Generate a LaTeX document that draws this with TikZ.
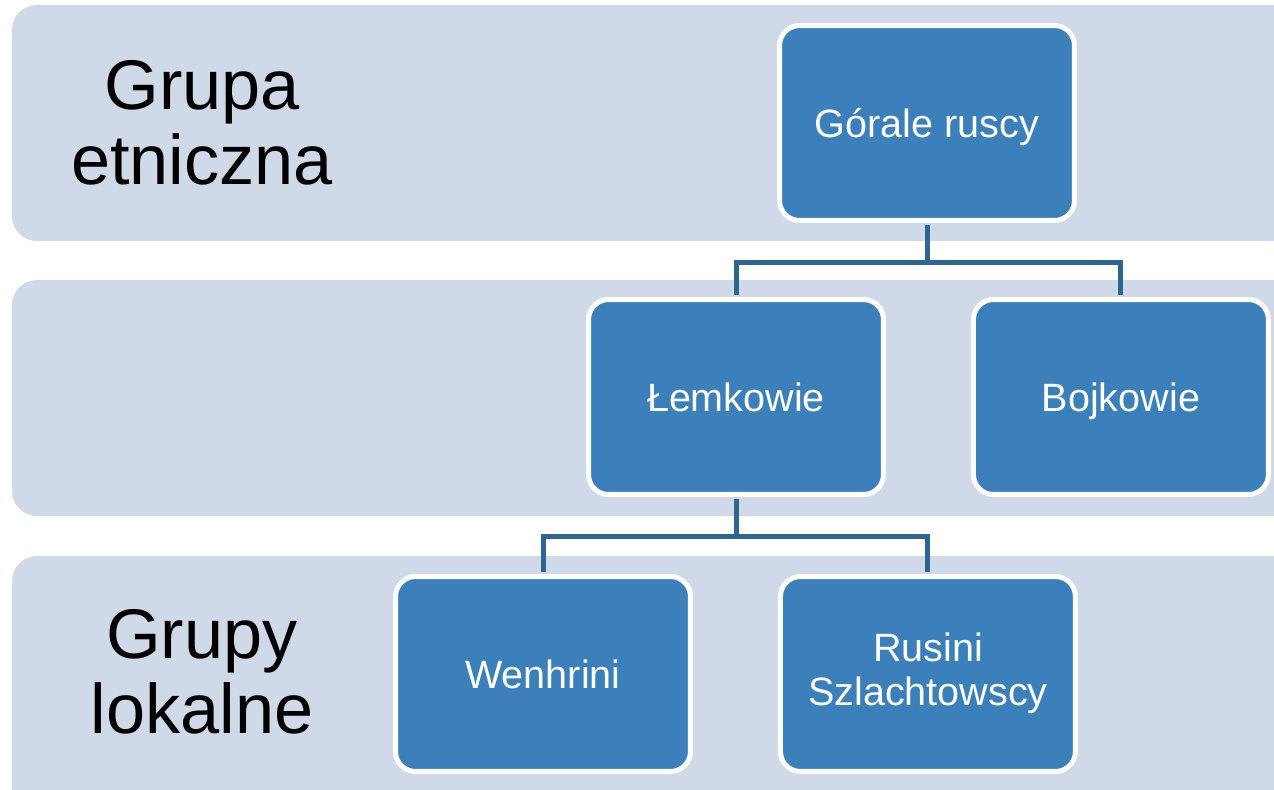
\documentclass[tikz,border=0pt]{standalone}
\usepackage{fontspec}
\setmainfont{Liberation Sans}
\usepackage{tikz}
\usetikzlibrary{positioning}
\definecolor{bandfill}{HTML}{CFD9E7}
\definecolor{boxfill}{HTML}{3B80BA}
\definecolor{linkcol}{HTML}{2F6593}
\newcommand{\boxstrut}{\rule[-0.23em]{0pt}{1.18em}}
\tikzset{group node/.style={rectangle,rounded corners=0.4cm,fill=boxfill,draw=white,line width=0.1cm,minimum width=5.9cm,minimum height=3.9cm,inner sep=0pt,text=white,align=center,font=\fontsize{22.5}{25}\selectfont,execute at begin node=\boxstrut,execute at end node=\boxstrut}}
\tikzset{band/.style={fill=bandfill,rounded corners=0.5cm}}
\tikzset{level label/.style={align=center,font=\fontsize{40}{43}\selectfont}}
\tikzset{link/.style={draw=linkcol,line width=0.1cm,shorten <=0.05cm,shorten >=0.05cm}}

\begin{document}
\begin{tikzpicture}[x=0.02cm,y=-0.02cm]
            \useasboundingbox (0,0) rectangle (1274,789);
            \clip (0,0) rectangle (1274,789);

            % levels
            \fill[band] (12,5) rectangle (1300,241);
            \fill[band] (12,280) rectangle (1300,516);
            \fill[band] (12,556) rectangle (1300,820);

            \node[level label] (ethnic) at (202,123) {Grupa\\etniczna};
            \node[level label] (local) at (202,672) {Grupy\\lokalne};

            % tree
            \node[group node] (G) at (927,123) {Górale ruscy};
            \node[group node] (L) at (736,397) {Łemkowie};
            \node[group node] (B) [right = 1.7cm of L] {Bojkowie};
            \node[group node] (W) at (543,674) {Wenhrini};
            \node[group node] (R) [right = 1.7cm of W] {Rusini\\Szlachtowscy};

            \draw[link] (G.south) -- ++(0,40) -| (L.north);
            \draw[link] (G.south) -- ++(0,40) -| (B.north);
            \draw[link] (L.south) -- ++(0,40) -| (W.north);
            \draw[link] (L.south) -- ++(0,40) -| (R.north);
        \end{tikzpicture}
\end{document}
